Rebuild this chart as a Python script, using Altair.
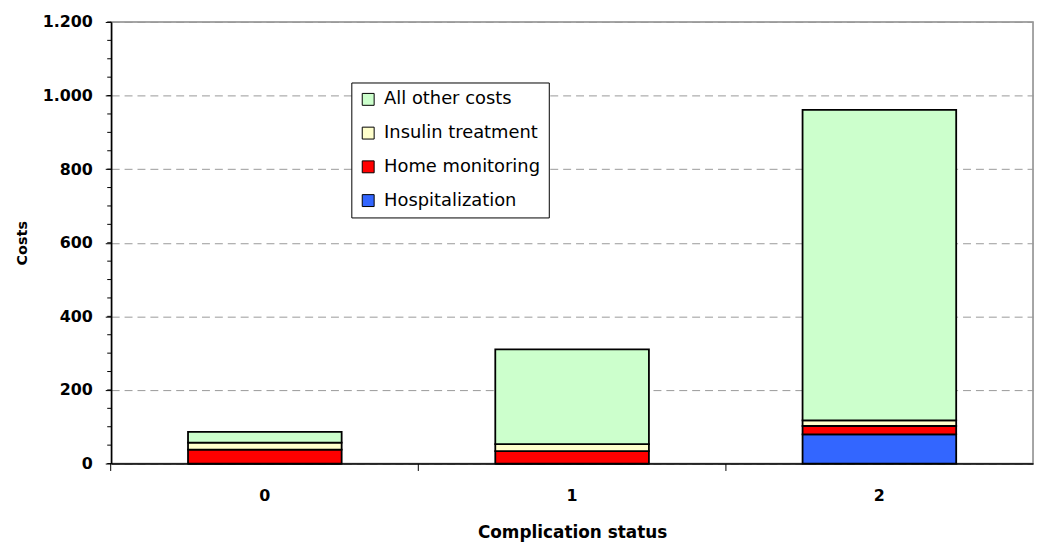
import altair as alt
import pandas as pd

categories = ["0", "1", "2"]
hospitalization = [0, 0, 79]
home_monitoring = [38, 34, 23]
insulin_treatment = [19, 19, 15]
all_other_costs = [29, 257, 844]

series_names = ["All other costs", "Insulin treatment", "Home monitoring", "Hospitalization"]
series_colors = ["#CCFFCC", "#FFFFCC", "#FF0000", "#3366FF"]
y_ticks = [0, 200, 400, 600, 800, 1000, 1200]
minor_ticks = list(range(0, 1201, 50))

stack_series = [
    ("Hospitalization", hospitalization),
    ("Home monitoring", home_monitoring),
    ("Insulin treatment", insulin_treatment),
    ("All other costs", all_other_costs),
]
rows = []
for i, c in enumerate(categories):
    for rank, (name, vals) in enumerate(stack_series):
        rows.append({"status": c, "series": name, "cost": vals[i], "rank": rank})
df = pd.DataFrame(rows)

y_scale = alt.Scale(domain=[0, 1200], nice=False)

bars = alt.Chart(df).mark_bar(stroke="black", strokeWidth=1.8).encode(
    x=alt.X(
        "status:N",
        sort=categories,
        scale=alt.Scale(paddingInner=0.5, paddingOuter=0.25),
        axis=alt.Axis(
            title="Complication status",
            labelAngle=0,
            bandPosition=-0.5,
            tickSize=7,
            tickColor="black",
            domainColor="black",
            domainWidth=1.5,
            labelPadding=17,
            labelFont="DejaVu Sans",
            labelFontSize=16,
            labelFontWeight="bold",
            labelColor="black",
            titleFont="DejaVu Sans",
            titleFontSize=17,
            titleFontWeight="bold",
            titleColor="black",
            titleBaseline="alphabetic",
            titleY=75,
        ),
    ),
    y=alt.Y(
        "cost:Q",
        stack="zero",
        scale=y_scale,
        axis=alt.Axis(
            values=y_ticks,
            title="Costs",
            labelExpr="replace(format(datum.value, ','), ',', '.')",
            grid=True,
            gridDash=[8, 5],
            gridColor="#999999",
            gridWidth=1,
            tickSize=6,
            tickColor="black",
            domainColor="black",
            domainWidth=1.5,
            labelPadding=13,
            labelFont="DejaVu Sans",
            labelFontSize=16,
            labelFontWeight="bold",
            labelColor="black",
            titleFont="DejaVu Sans",
            titleFontSize=14.5,
            titleFontWeight="bold",
            titleColor="black",
            titleBaseline="alphabetic",
            titleAlign="center",
            titleX=-85,
            titleY=222.5,
        ),
    ),
    color=alt.Color(
        "series:N",
        scale=alt.Scale(domain=series_names, range=series_colors),
        legend=alt.Legend(
            title=None,
            orient="none",
            legendX=242,
            legendY=61,
            symbolType="square",
            symbolSize=144,
            symbolStrokeColor="black",
            symbolStrokeWidth=1,
            labelFont="DejaVu Sans",
            labelFontSize=18,
            labelColor="black",
            labelOffset=7,
            padding=8,
            rowPadding=16,
            strokeColor="black",
            fillColor="white",
        ),
    ),
    order=alt.Order("rank:Q", sort="ascending"),
)

minor = alt.Chart(pd.DataFrame({"v": minor_ticks})).mark_rule(color="black", strokeWidth=1).encode(
    y=alt.Y("v:Q", scale=y_scale, title="Costs"),
    x=alt.value(-4),
    x2=alt.value(0),
)

chart = alt.layer(bars, minor).properties(
    width=929,
    height=445,
    autosize="none",
    padding={"left": 104, "top": 12, "right": 2, "bottom": 77},
).configure_view(stroke="#888888", strokeWidth=1.5)

chart.save("out.html", embed_options={"renderer": "svg", "actions": False})
